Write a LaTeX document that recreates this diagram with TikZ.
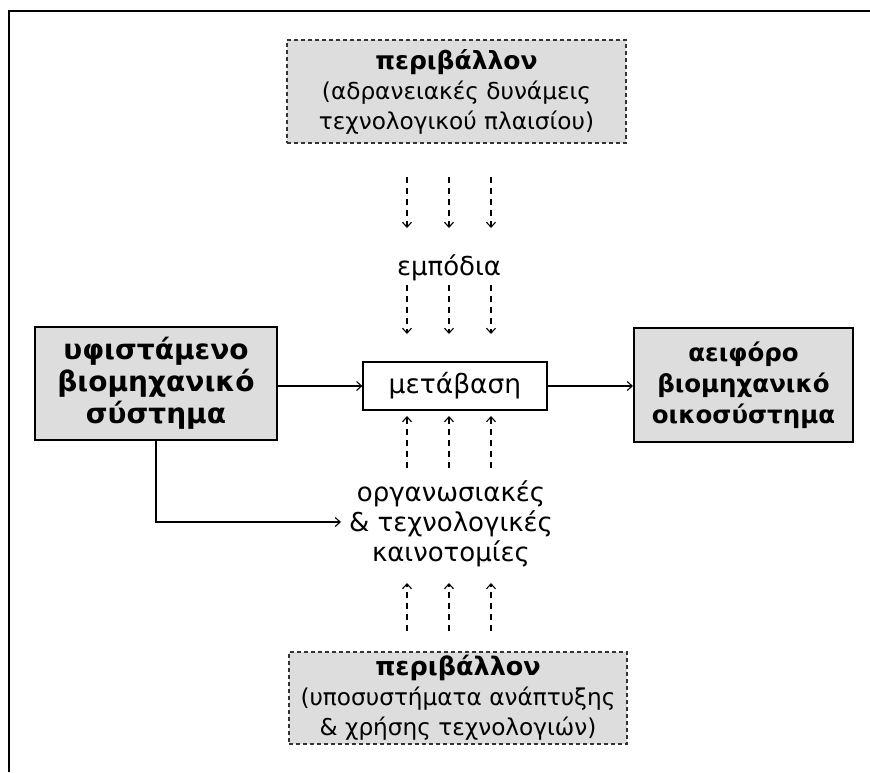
\documentclass[tikz,border=0pt]{standalone}
\usepackage{fontspec}
\setmainfont{DejaVu Sans}
\usetikzlibrary{arrows.meta}
\definecolor{boxgray}{HTML}{DDDDDD}
\definecolor{dashgray}{HTML}{333333}
\begin{document}
\begin{tikzpicture}[x=1pt,y=-1pt,
  tip/.style={-{Straight Barb[length=5pt,width=9pt,line width=1.1pt]}},
  solidarrow/.style={tip,line width=1.3pt},
  dasharrow/.style={tip,line width=1.3pt,dash pattern=on 6pt off 5pt},
  graybox/.style={draw,line width=2pt,fill=boxgray,align=center,inner sep=0pt},
  plainbox/.style={draw,line width=1.3pt,fill=white,align=center,inner sep=0pt,
    font=\fontsize{26.5}{30}\selectfont},
  envbox/.style={draw=dashgray,line width=1.3pt,dash pattern=on 4pt off 3pt,fill=boxgray,
    align=center,inner sep=0pt,font=\fontsize{23.2}{30}\selectfont},
  plaintext/.style={align=center,inner sep=0pt,font=\fontsize{26}{30}\selectfont}]
\useasboundingbox (0,0) rectangle (870,772);
\draw[line width=2.2pt] (9,772) -- (9,11) -- (870,11);

\node[envbox,minimum width=339,minimum height=103] (envtop) at (456.5,91.5)
  {{\fontsize{25}{30}\selectfont\bfseries περιβάλλον}\\(αδρανειακές δυνάμεις\\τεχνολογικού πλαισίου)};
\node[envbox,minimum width=338,minimum height=92] (envbot) at (458,698)
  {{\fontsize{25.5}{30}\selectfont\bfseries περιβάλλον}\\(υποσυστήματα ανάπτυξης\\\& χρήσης τεχνολογιών)};

\node[graybox,minimum width=242,minimum height=113,font=\fontsize{28}{32}\selectfont\bfseries] (src) at (156,383.5)
  {υφιστάμενο\\βιομηχανικό\\σύστημα};
\node[graybox,minimum width=219,minimum height=114,font=\fontsize{24.5}{31}\selectfont\bfseries] (dst) at (743.5,385)
  {αειφόρο\\βιομηχανικό\\οικοσύστημα};
\node[plainbox,minimum width=184,minimum height=48] (trans) at (455,386) {μετάβαση};

\node[plaintext] (obst) at (449,268) {εμπόδια};
\node[plaintext] (innov) at (451,524) {οργανωσιακές\\\& τεχνολογικές\\καινοτομίες};

\foreach \i/\x in {a/407,b/449,c/491}{
  \coordinate (t1s\i) at (\x,177);
  \coordinate (t1e\i) at (\x,228);
  \coordinate (t2s\i) at (\x,285);
  \coordinate (t2e\i) at (\x,334);
  \coordinate (b1s\i) at (\x,468);
  \coordinate (b1e\i) at (\x,416);
  \coordinate (b2s\i) at (\x,631);
  \coordinate (b2e\i) at (\x,583);
  \draw[dasharrow] (t1s\i) -- (t1e\i);
  \draw[dasharrow] (t2s\i) -- (t2e\i);
  \draw[dasharrow] (b1s\i) -- (b1e\i);
  \draw[dasharrow] (b2s\i) -- (b2e\i);
}

\draw[solidarrow] (src.east |- trans.west) -- (trans.west);
\draw[solidarrow] (trans.east) -- (trans.east -| dst.west);
\coordinate (lturn) at (156,522);
\coordinate (lend) at (341,522);
\draw[solidarrow] (src.south) -- (lturn) -- (lend);
\end{tikzpicture}
\end{document}
